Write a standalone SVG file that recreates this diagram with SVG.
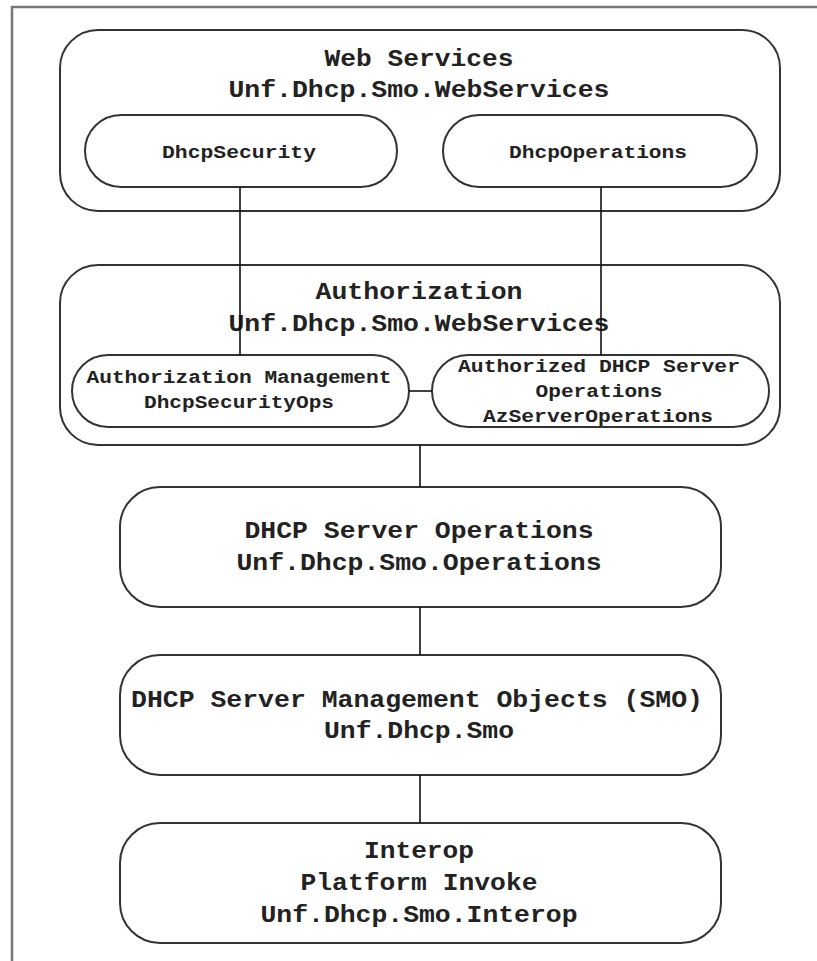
<svg xmlns="http://www.w3.org/2000/svg" width="817" height="961" viewBox="0 0 817 961">
<style>
.box{fill:#fff;stroke:#333;stroke-width:2}
.frame{fill:none;stroke:#777;stroke-width:2.5}
.conn line{stroke:#111;stroke-width:1.6}
text{font-family:"Courier New",Courier,"Nimbus Mono PS","FreeMono","Liberation Mono",monospace;font-weight:bold;fill:#222;text-anchor:middle}
.big{font-size:23px}
.sm{font-size:18.5px}
</style>
<rect width="817" height="961" fill="#fff"/>
<path class="frame" d="M12 961 V7 H817"/>
<g id="web-services">
<rect class="box" x="60" y="30" width="720" height="181" rx="38"/>
<text class="big" x="419" y="66" textLength="189" lengthAdjust="spacingAndGlyphs">Web Services</text>
<text class="big" x="419" y="97" textLength="381" lengthAdjust="spacingAndGlyphs">Unf.Dhcp.Smo.WebServices</text>
</g>
<g id="dhcp-security">
<rect class="box" x="85" y="115" width="312" height="72" rx="36"/>
<text class="sm" x="239" y="158" textLength="154" lengthAdjust="spacingAndGlyphs">DhcpSecurity</text>
</g>
<g id="dhcp-operations">
<rect class="box" x="443" y="115" width="314" height="72" rx="36"/>
<text class="sm" x="598" y="158" textLength="178" lengthAdjust="spacingAndGlyphs">DhcpOperations</text>
</g>
<g id="authorization">
<rect class="box" x="60" y="265" width="720" height="180" rx="38"/>
<text class="big" x="419" y="299" textLength="207" lengthAdjust="spacingAndGlyphs">Authorization</text>
<text class="big" x="419" y="331" textLength="381" lengthAdjust="spacingAndGlyphs">Unf.Dhcp.Smo.WebServices</text>
</g>
<g id="authorization-management">
<rect class="box" x="72" y="355" width="337" height="72" rx="36"/>
<text class="sm" x="239" y="383" textLength="305" lengthAdjust="spacingAndGlyphs">Authorization Management</text>
<text class="sm" x="239" y="408" textLength="190" lengthAdjust="spacingAndGlyphs">DhcpSecurityOps</text>
</g>
<g id="authorized-server-operations">
<rect class="box" x="432" y="355" width="337" height="72" rx="36"/>
<text class="sm" x="599" y="372" textLength="282" lengthAdjust="spacingAndGlyphs">Authorized DHCP Server</text>
<text class="sm" x="599" y="397" textLength="127" lengthAdjust="spacingAndGlyphs">Operations</text>
<text class="sm" x="598" y="422" textLength="230" lengthAdjust="spacingAndGlyphs">AzServerOperations</text>
</g>
<g id="server-operations">
<rect class="box" x="120" y="487" width="601" height="120" rx="40"/>
<text class="big" x="419" y="538" textLength="349" lengthAdjust="spacingAndGlyphs">DHCP Server Operations</text>
<text class="big" x="419" y="570" textLength="365" lengthAdjust="spacingAndGlyphs">Unf.Dhcp.Smo.Operations</text>
</g>
<g id="smo">
<rect class="box" x="120" y="655" width="601" height="120" rx="40"/>
<text class="big" x="417" y="707" textLength="572" lengthAdjust="spacingAndGlyphs">DHCP Server Management Objects (SMO)</text>
<text class="big" x="419" y="738" textLength="190" lengthAdjust="spacingAndGlyphs">Unf.Dhcp.Smo</text>
</g>
<g id="interop">
<rect class="box" x="120" y="823" width="601" height="120" rx="40"/>
<text class="big" x="419" y="858" textLength="110" lengthAdjust="spacingAndGlyphs">Interop</text>
<text class="big" x="419" y="890" textLength="237" lengthAdjust="spacingAndGlyphs">Platform Invoke</text>
<text class="big" x="419" y="922" textLength="317" lengthAdjust="spacingAndGlyphs">Unf.Dhcp.Smo.Interop</text>
</g>
<g id="connectors" class="conn">
<line x1="240" y1="187" x2="240" y2="355"/>
<line x1="601" y1="187" x2="601" y2="355"/>
<line x1="409" y1="391" x2="432" y2="391"/>
<line x1="420" y1="445" x2="420" y2="487"/>
<line x1="420" y1="607" x2="420" y2="655"/>
<line x1="420" y1="775" x2="420" y2="823"/>
</g>
</svg>
